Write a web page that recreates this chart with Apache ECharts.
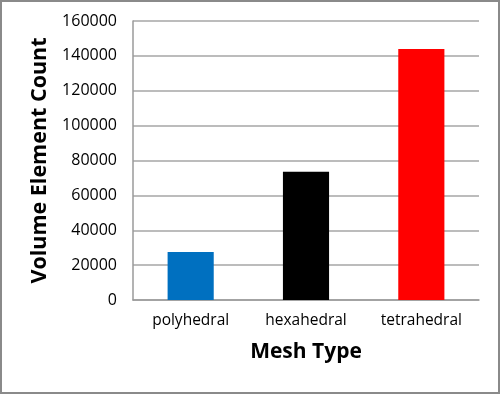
<!DOCTYPE html>
<html>
<head>
<meta charset="utf-8">
<script src="https://cdn.jsdelivr.net/npm/echarts@6/dist/echarts.min.js"></script>
<style>
html,body{margin:0;padding:0;background:#fff;}
#c{width:500px;height:394px;box-sizing:border-box;border:2px solid #8a8a8a;}
</style>
</head>
<body>
<div id="c"></div>
<script>
const categories = ['polyhedral', 'hexahedral', 'tetrahedral'];
const values = [27500, 73600, 144000];
const colors = ['#0070C0', '#000000', '#FF0000'];
const yTicks = [0, 20000, 40000, 60000, 80000, 100000, 120000, 140000, 160000];

const chart = echarts.init(document.getElementById('c'), null, {renderer: 'canvas'});
const font = 'Open Sans, Liberation Sans, sans-serif';
chart.setOption({
  animation: false,
  grid: {left: 131, right: 19, top: 19, bottom: 92},
  xAxis: {
    type: 'category',
    data: categories,
    name: 'Mesh Type',
    nameLocation: 'middle',
    nameGap: 42,
    nameTextStyle: {fontFamily: font, fontWeight: 'bold', fontSize: 21, color: '#000'},
    axisLine: {lineStyle: {color: '#9a9a9a', width: 1.5}},
    axisTick: {show: false},
    axisLabel: {fontFamily: font, fontSize: 15.5, color: '#000', margin: 13}
  },
  yAxis: {
    type: 'value',
    min: yTicks[0],
    max: yTicks[yTicks.length - 1],
    interval: yTicks[1] - yTicks[0],
    name: 'Volume Element Count',
    nameLocation: 'middle',
    nameGap: 81,
    nameTextStyle: {fontFamily: font, fontWeight: 'bold', fontSize: 21.5, color: '#000'},
    axisLine: {show: true, lineStyle: {color: '#9a9a9a', width: 1.5}},
    axisTick: {show: false},
    axisLabel: {fontFamily: font, fontSize: 16, color: '#000', margin: 16, formatter: v => String(v)},
    splitLine: {lineStyle: {color: '#a6a6a6', width: 1.5}}
  },
  series: [{
    type: 'bar',
    data: values.map((v, i) => ({value: v, itemStyle: {color: colors[i]}})),
    barCategoryGap: '60%'
  }]
});
</script>
</body>
</html>
